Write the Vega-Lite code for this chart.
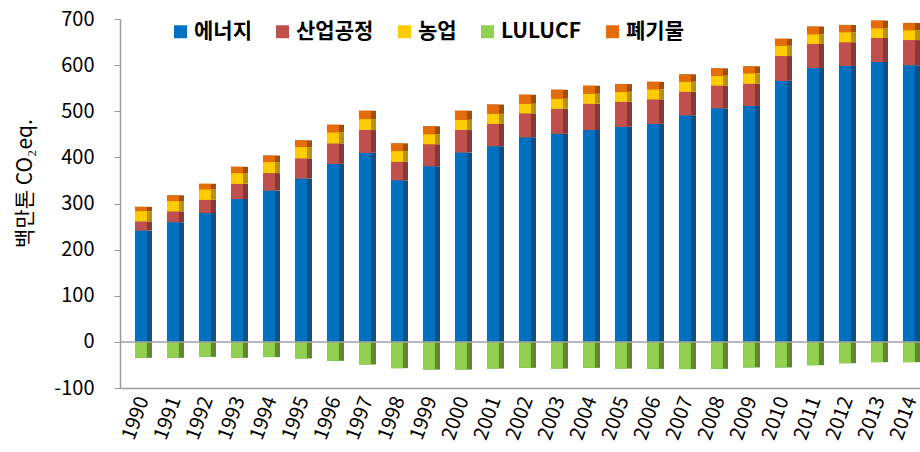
{
"$schema": "https://vega.github.io/schema/vega-lite/v6.json",
"width": 800, "height": 369,
"autosize": {"type": "none"},
"padding": {"left": 120, "top": 19, "right": 0, "bottom": 64},
"background": "white",
"config": {"view": {"stroke": null}, "font": "Noto Sans CJK KR"},
"datasets": {"ghg": [
{"year":"1990","cat":"에너지","rank":1,"value":241.6},{"year":"1990","cat":"산업공정","rank":2,"value":19.6},{"year":"1990","cat":"농업","rank":3,"value":22.3},{"year":"1990","cat":"LULUCF","rank":4,"value":-34.7},{"year":"1990","cat":"폐기물","rank":5,"value":9.3},
{"year":"1991","cat":"에너지","rank":1,"value":259.6},{"year":"1991","cat":"산업공정","rank":2,"value":23.3},{"year":"1991","cat":"농업","rank":3,"value":22.3},{"year":"1991","cat":"LULUCF","rank":4,"value":-34.7},{"year":"1991","cat":"폐기물","rank":5,"value":12.4},
{"year":"1992","cat":"에너지","rank":1,"value":279.2},{"year":"1992","cat":"산업공정","rank":2,"value":28.8},{"year":"1992","cat":"농업","rank":3,"value":22.6},{"year":"1992","cat":"LULUCF","rank":4,"value":-32.5},{"year":"1992","cat":"폐기물","rank":5,"value":12.1},
{"year":"1993","cat":"에너지","rank":1,"value":309.5},{"year":"1993","cat":"산업공정","rank":2,"value":33.2},{"year":"1993","cat":"농업","rank":3,"value":23.2},{"year":"1993","cat":"LULUCF","rank":4,"value":-34.7},{"year":"1993","cat":"폐기물","rank":5,"value":13.7},
{"year":"1994","cat":"에너지","rank":1,"value":328.3},{"year":"1994","cat":"산업공정","rank":2,"value":37.6},{"year":"1994","cat":"농업","rank":3,"value":23.9},{"year":"1994","cat":"LULUCF","rank":4,"value":-33.0},{"year":"1994","cat":"폐기물","rank":5,"value":14.2},
{"year":"1995","cat":"에너지","rank":1,"value":354.4},{"year":"1995","cat":"산업공정","rank":2,"value":43.4},{"year":"1995","cat":"농업","rank":3,"value":24.5},{"year":"1995","cat":"LULUCF","rank":4,"value":-36.0},{"year":"1995","cat":"폐기물","rank":5,"value":14.6},
{"year":"1996","cat":"에너지","rank":1,"value":386.1},{"year":"1996","cat":"산업공정","rank":2,"value":44.2},{"year":"1996","cat":"농업","rank":3,"value":23.9},{"year":"1996","cat":"LULUCF","rank":4,"value":-41.0},{"year":"1996","cat":"폐기물","rank":5,"value":16.5},
{"year":"1997","cat":"에너지","rank":1,"value":410.0},{"year":"1997","cat":"산업공정","rank":2,"value":49.2},{"year":"1997","cat":"농업","rank":3,"value":23.8},{"year":"1997","cat":"LULUCF","rank":4,"value":-49.0},{"year":"1997","cat":"폐기물","rank":5,"value":18.1},
{"year":"1998","cat":"에너지","rank":1,"value":350.5},{"year":"1998","cat":"산업공정","rank":2,"value":39.9},{"year":"1998","cat":"농업","rank":3,"value":23.2},{"year":"1998","cat":"LULUCF","rank":4,"value":-57.0},{"year":"1998","cat":"폐기물","rank":5,"value":16.7},
{"year":"1999","cat":"에너지","rank":1,"value":380.9},{"year":"1999","cat":"산업공정","rank":2,"value":47.6},{"year":"1999","cat":"농업","rank":3,"value":21.7},{"year":"1999","cat":"LULUCF","rank":4,"value":-60.0},{"year":"1999","cat":"폐기물","rank":5,"value":17.3},
{"year":"2000","cat":"에너지","rank":1,"value":410.7},{"year":"2000","cat":"산업공정","rank":2,"value":48.5},{"year":"2000","cat":"농업","rank":3,"value":22.3},{"year":"2000","cat":"LULUCF","rank":4,"value":-60.0},{"year":"2000","cat":"폐기물","rank":5,"value":19.6},
{"year":"2001","cat":"에너지","rank":1,"value":424.2},{"year":"2001","cat":"산업공정","rank":2,"value":48.4},{"year":"2001","cat":"농업","rank":3,"value":21.7},{"year":"2001","cat":"LULUCF","rank":4,"value":-57.8},{"year":"2001","cat":"폐기물","rank":5,"value":20.3},
{"year":"2002","cat":"에너지","rank":1,"value":443.4},{"year":"2002","cat":"산업공정","rank":2,"value":52.0},{"year":"2002","cat":"농업","rank":3,"value":20.9},{"year":"2002","cat":"LULUCF","rank":4,"value":-56.4},{"year":"2002","cat":"폐기물","rank":5,"value":19.5},
{"year":"2003","cat":"에너지","rank":1,"value":451.2},{"year":"2003","cat":"산업공정","rank":2,"value":54.2},{"year":"2003","cat":"농업","rank":3,"value":21.7},{"year":"2003","cat":"LULUCF","rank":4,"value":-57.8},{"year":"2003","cat":"폐기물","rank":5,"value":19.5},
{"year":"2004","cat":"에너지","rank":1,"value":459.2},{"year":"2004","cat":"산업공정","rank":2,"value":57.1},{"year":"2004","cat":"농업","rank":3,"value":21.7},{"year":"2004","cat":"LULUCF","rank":4,"value":-56.4},{"year":"2004","cat":"폐기물","rank":5,"value":17.3},
{"year":"2005","cat":"에너지","rank":1,"value":466.4},{"year":"2005","cat":"산업공정","rank":2,"value":54.2},{"year":"2005","cat":"농업","rank":3,"value":21.6},{"year":"2005","cat":"LULUCF","rank":4,"value":-57.8},{"year":"2005","cat":"폐기물","rank":5,"value":16.7},
{"year":"2006","cat":"에너지","rank":1,"value":472.8},{"year":"2006","cat":"산업공정","rank":2,"value":52.9},{"year":"2006","cat":"농업","rank":3,"value":21.7},{"year":"2006","cat":"LULUCF","rank":4,"value":-58.5},{"year":"2006","cat":"폐기물","rank":5,"value":16.5},
{"year":"2007","cat":"에너지","rank":1,"value":491.3},{"year":"2007","cat":"산업공정","rank":2,"value":50.9},{"year":"2007","cat":"농업","rank":3,"value":21.7},{"year":"2007","cat":"LULUCF","rank":4,"value":-59.0},{"year":"2007","cat":"폐기물","rank":5,"value":16.1},
{"year":"2008","cat":"에너지","rank":1,"value":506.5},{"year":"2008","cat":"산업공정","rank":2,"value":49.3},{"year":"2008","cat":"농업","rank":3,"value":21.2},{"year":"2008","cat":"LULUCF","rank":4,"value":-58.5},{"year":"2008","cat":"폐기물","rank":5,"value":16.0},
{"year":"2009","cat":"에너지","rank":1,"value":511.5},{"year":"2009","cat":"산업공정","rank":2,"value":48.1},{"year":"2009","cat":"농업","rank":3,"value":22.6},{"year":"2009","cat":"LULUCF","rank":4,"value":-55.5},{"year":"2009","cat":"폐기물","rank":5,"value":15.2},
{"year":"2010","cat":"에너지","rank":1,"value":566.1},{"year":"2010","cat":"산업공정","rank":2,"value":53.6},{"year":"2010","cat":"농업","rank":3,"value":22.3},{"year":"2010","cat":"LULUCF","rank":4,"value":-55.5},{"year":"2010","cat":"폐기물","rank":5,"value":15.2},
{"year":"2011","cat":"에너지","rank":1,"value":593.9},{"year":"2011","cat":"산업공정","rank":2,"value":52.0},{"year":"2011","cat":"농업","rank":3,"value":21.0},{"year":"2011","cat":"LULUCF","rank":4,"value":-50.6},{"year":"2011","cat":"폐기물","rank":5,"value":16.7},
{"year":"2012","cat":"에너지","rank":1,"value":598.2},{"year":"2012","cat":"산업공정","rank":2,"value":51.4},{"year":"2012","cat":"농업","rank":3,"value":21.7},{"year":"2012","cat":"LULUCF","rank":4,"value":-46.3},{"year":"2012","cat":"폐기물","rank":5,"value":15.8},
{"year":"2013","cat":"에너지","rank":1,"value":606.9},{"year":"2013","cat":"산업공정","rank":2,"value":52.0},{"year":"2013","cat":"농업","rank":3,"value":21.0},{"year":"2013","cat":"LULUCF","rank":4,"value":-44.0},{"year":"2013","cat":"폐기물","rank":5,"value":16.7},
{"year":"2014","cat":"에너지","rank":1,"value":599.7},{"year":"2014","cat":"산업공정","rank":2,"value":54.6},{"year":"2014","cat":"농업","rank":3,"value":21.3},{"year":"2014","cat":"LULUCF","rank":4,"value":-44.0},{"year":"2014","cat":"폐기물","rank":5,"value":15.9}
]},
"layer": [
{
"data": {"name": "ghg"},
"mark": {"type": "bar"},
"encoding": {
"x": {"field": "year", "type": "ordinal", "scale": {"paddingInner": 0.469, "paddingOuter": 0.234, "align": 1},
 "axis": {"title": null, "labelAngle": -70, "labelFontSize": 20, "labelColor": "#000", "ticks": false, "labelPadding": 9, "domainColor": "#9a9a9a", "domainWidth": 1.5}},
"y": {"field": "value", "type": "quantitative", "stack": "zero", "scale": {"domain": [-100, 700], "nice": false},
 "axis": {"values": [-100, 0, 100, 200, 300, 400, 500, 600, 700], "labelExpr": "replace(datum.label, '−', '-')", "grid": false, "title": "백만톤 CO₂eq.", "titleFontSize": 21, "titleFontWeight": "normal", "titleColor": "#000", "titleX": -95, "titleY": 164, "titleAngle": -90, "titleBaseline": "middle", "titleAlign": "center", "labelFontSize": 20, "labelColor": "#000", "labelPadding": 20, "tickSize": 6, "tickColor": "#9a9a9a", "domainColor": "#9a9a9a", "domainWidth": 1.5}},
"order": {"field": "rank", "type": "quantitative", "sort": "ascending"},
"color": {"field": "cat", "type": "nominal", "sort": ["에너지", "산업공정", "농업", "LULUCF", "폐기물"],
 "scale": {"domain": ["에너지", "산업공정", "농업", "LULUCF", "폐기물"], "range": ["#0B4F86", "#8A3735", "#B8930A", "#5E8A2F", "#A44D07"]}, "legend": null}
}
},
{
"data": {"name": "ghg"},
"mark": {"type": "bar", "width": {"band": 0.7}, "xOffset": -2.5},
"encoding": {
"x": {"field": "year", "type": "ordinal", "scale": {"paddingInner": 0.469, "paddingOuter": 0.234, "align": 1},
 "axis": {"title": null, "labelAngle": -70, "labelFontSize": 20, "labelColor": "#000", "ticks": false, "labelPadding": 9, "domainColor": "#9a9a9a", "domainWidth": 1.5}},
"y": {"field": "value", "type": "quantitative", "stack": "zero",
 "axis": {"values": [-100, 0, 100, 200, 300, 400, 500, 600, 700], "labelExpr": "replace(datum.label, '−', '-')", "grid": false, "title": "백만톤 CO₂eq.", "titleFontSize": 21, "titleFontWeight": "normal", "titleColor": "#000", "titleX": -95, "titleY": 164, "titleAngle": -90, "titleBaseline": "middle", "titleAlign": "center", "labelFontSize": 20, "labelColor": "#000", "labelPadding": 20, "tickSize": 6, "tickColor": "#9a9a9a", "domainColor": "#9a9a9a", "domainWidth": 1.5}},
"order": {"field": "rank", "type": "quantitative", "sort": "ascending"},
"color": {"field": "cat", "type": "nominal", "sort": ["에너지", "산업공정", "농업", "LULUCF", "폐기물"],
 "scale": {"domain": ["에너지", "산업공정", "농업", "LULUCF", "폐기물"], "range": ["#0070C0", "#C0504D", "#FFCC00", "#92D050", "#E46C0A"]},
 "legend": {"title": null, "orient": "none", "legendX": 50, "legendY": 2, "direction": "horizontal", "symbolType": "square", "symbolSize": 169, "symbolStrokeWidth": 0, "labelFontSize": 21, "labelFontWeight": "bold", "labelColor": "#000", "labelOffset": 3, "columnPadding": 20, "labelLimit": 200}}
}
},
{
"data": {"values": [{"z": 0}]},
"mark": {"type": "rule", "color": "#a0a0a0", "strokeWidth": 1.5},
"encoding": {"y": {"field": "z", "type": "quantitative"}}
}
],
"resolve": {"scale": {"color": "independent"}}
}
